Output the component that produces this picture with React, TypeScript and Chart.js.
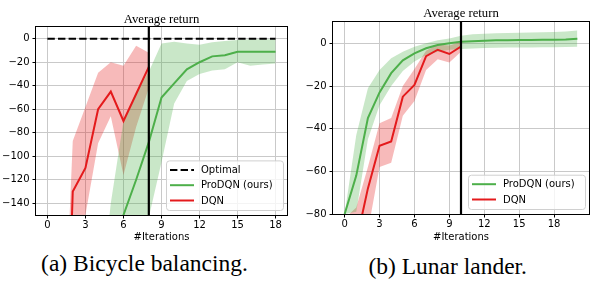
import React, { useEffect, useRef } from "react";
import { Chart, registerables } from "chart.js";

Chart.register(...registerables);

// ---------------- (a) Bicycle balancing ----------------
const bikeXTicks = [0, 3, 6, 9, 12, 15, 18];
const bikeYTicks = [0, -20, -40, -60, -80, -100, -120, -140];
const bikeXRange = [-0.9, 18.9];
const bikeYRange = [-150, 10];
const bikeMarker = 8;
const bikeOptimalIter = [0, 18];
const bikeOptimal = [0, 0];

const bikeProIter = [4, 5, 6, 7, 8, 9, 10, 11, 12, 13, 14, 15, 16, 17, 18];
const bikeProMean = [-230, -185, -150, -120, -88, -50, -38, -26, -20, -15, -14, -11, -11, -11, -11];
const bikeProUpper = [-240, -140, -70, -45, -28, -4, -2.5, -4, -5, -3, -2, -1, -0.5, -0.5, -0.5];
const bikeProLower = [-400, -330, -260, -200, -152, -105, -55, -36, -30, -27, -26, -20, -23, -22, -21];

const bikeDqnIter = [1, 2, 3, 4, 5, 6, 7, 8];
const bikeDqnMean = [-460, -130, -110, -60, -45, -70, -47, -24];
const bikeDqnUpper = [-340, -87, -58, -29, -20, -23, -6, -12];
const bikeDqnLower = [-600, -200, -150, -89, -66, -116, -75, -42];

// ---------------- (b) Lunar lander ----------------
const lunarXTicks = [0, 3, 6, 9, 12, 15, 18];
const lunarYTicks = [0, -20, -40, -60, -80];
const lunarXRange = [-1, 21];
const lunarYRange = [-80, 10];
const lunarMarker = 10;

const lunarProIter = [0, 1, 2, 3, 4, 5, 6, 7, 8, 9, 10, 11, 12, 13, 14, 15, 16, 17, 18, 19, 20];
const lunarProMean = [-80, -62, -35, -23, -14, -8, -4.7, -2.3, -0.8, 0, 0.8, 1.0, 1.2, 1.4, 1.5, 1.6, 1.6, 1.7, 1.7, 1.8, 2.2];
const lunarProUpper = [-80, -43, -21, -12.5, -7, -3.9, -1.6, 0, 1.5, 2.3, 3.6, 4.2, 4.5, 4.7, 4.9, 5.0, 5.1, 5.2, 5.3, 5.5, 6.0];
const lunarProLower = [-80, -79, -45, -29, -20, -13, -8.5, -5.5, -4, -3, -2.6, -2.4, -2.2, -2.1, -2.0, -1.9, -1.9, -1.8, -1.8, -1.7, -1.6];

const lunarDqnIter = [0, 1, 2, 3, 4, 5, 6, 7, 8, 9, 10];
const lunarDqnMean = [-130, -93, -68, -48, -46, -25, -19.5, -6, -3, -5, -1.5];
const lunarDqnUpper = [-82, -77, -58, -37.5, -35, -20, -12, -3.5, -0.5, -1, 0.8];
const lunarDqnLower = [-160, -120, -88, -58, -56, -34, -27, -12.5, -7.5, -9, -4];

// ---------------- text ----------------
const panelTitle = "Average return";
const xTitle = "#Iterations";
const labelOptimal = "Optimal";
const labelPro = "ProDQN (ours)";
const labelDqn = "DQN";
const captionA = "(a) Bicycle balancing.";
const captionB = "(b) Lunar lander.";

// ---------------- styles ----------------
const GREEN = "#4daf4a";
const RED = "#e41a1c";
const GREEN_FILL = "rgba(77,175,74,0.3)";
const RED_FILL = "rgba(228,26,28,0.3)";
const GRID = "#c9c9c9";
const TICK_FONT = { family: "'DejaVu Sans'", size: 10 };

const pts = (xs: number[], ys: number[]) => xs.map((x, i) => ({ x, y: ys[i] }));
const minus = (v: number) => String(v).replace("-", "\u2212");

const decorPlugin = {
  id: "decor",
  afterDraw(chart: any, _args: any, opts: any) {
    const { ctx, chartArea: a } = chart;
    ctx.save();
    // frame
    ctx.strokeStyle = "#000";
    ctx.lineWidth = 1;
    ctx.strokeRect(Math.round(a.left) - 0.5, Math.round(a.top) - 0.5, Math.round(a.right - a.left) + 1, Math.round(a.bottom - a.top) + 1);
    // title
    ctx.fillStyle = "#000";
    ctx.font = "12.7px 'Liberation Serif'";
    ctx.textAlign = "center";
    ctx.textBaseline = "middle";
    ctx.fillText(opts.title, (a.left + a.right) / 2, a.top - opts.titleGap);
    // legend
    const items = chart.data.datasets.filter((d: any) => d.inLegend);
    const w = 117;
    const rowH = 15.3;
    const h = 19 + (items.length - 1) * rowH;
    const bx = a.right - 4 - w;
    const by = a.bottom - 5 - h;
    ctx.beginPath();
    (ctx as any).roundRect(bx + 0.5, by + 0.5, w, h, 3);
    ctx.fillStyle = "rgba(255,255,255,0.8)";
    ctx.fill();
    ctx.strokeStyle = "#d0d0d0";
    ctx.lineWidth = 1;
    ctx.stroke();
    ctx.font = "10px 'DejaVu Sans'";
    ctx.textAlign = "left";
    items.forEach((d: any, i: number) => {
      const y = by + 9.5 + i * rowH;
      ctx.beginPath();
      ctx.setLineDash(d.borderDash || []);
      ctx.strokeStyle = d.borderColor;
      ctx.lineWidth = 2;
      ctx.moveTo(bx + 4, y);
      ctx.lineTo(bx + 28, y);
      ctx.stroke();
      ctx.setLineDash([]);
      ctx.fillStyle = "#000";
      ctx.fillText(d.label, bx + 35, y + 0.5);
    });
    ctx.restore();
  },
};

type Spec = {
  xTicks: number[];
  yTicks: number[];
  xRange: number[];
  yRange: number[];
  marker: number;
  optimal?: { iter: number[]; vals: number[] };
  pro: { iter: number[]; mean: number[]; upper: number[]; lower: number[] };
  dqn: { iter: number[]; mean: number[]; upper: number[]; lower: number[] };
  yAxisW: number;
  xAxisH: number;
  padTop: number;
  padRight: number;
  titleGap: number;
};

function makeConfig(s: Spec): any {
  const datasets: any[] = [
    {
      label: "marker",
      data: [
        { x: s.marker, y: s.yRange[0] },
        { x: s.marker, y: s.yRange[1] },
      ],
      borderColor: "#000",
      borderWidth: 2.2,
    },
  ];
  if (s.optimal) {
    datasets.push({
      label: labelOptimal,
      inLegend: true,
      data: pts(s.optimal.iter, s.optimal.vals),
      borderColor: "#000",
      borderWidth: 2,
      borderDash: [7.4, 3.2],
    });
  }
  datasets.push(
    { label: labelPro, inLegend: true, data: pts(s.pro.iter, s.pro.mean), borderColor: GREEN, borderWidth: 2 },
    { label: labelDqn, inLegend: true, data: pts(s.dqn.iter, s.dqn.mean), borderColor: RED, borderWidth: 2 },
    { label: "pro upper", data: pts(s.pro.iter, s.pro.upper), fill: "+1", backgroundColor: GREEN_FILL, borderColor: "rgba(0,0,0,0)", borderWidth: 0 },
    { label: "pro lower", data: pts(s.pro.iter, s.pro.lower), fill: false, borderColor: "rgba(0,0,0,0)", borderWidth: 0 },
    { label: "dqn upper", data: pts(s.dqn.iter, s.dqn.upper), fill: "+1", backgroundColor: RED_FILL, borderColor: "rgba(0,0,0,0)", borderWidth: 0 },
    { label: "dqn lower", data: pts(s.dqn.iter, s.dqn.lower), fill: false, borderColor: "rgba(0,0,0,0)", borderWidth: 0 }
  );
  datasets.forEach((d) => {
    d.pointRadius = 0;
    d.tension = 0;
    d.clip = 0;
    if (d.fill === undefined) d.fill = false;
  });

  return {
    type: "line",
    data: { datasets },
    plugins: [decorPlugin],
    options: {
      responsive: false,
      animation: false,
      events: [],
      layout: { padding: { left: 0, right: s.padRight, top: s.padTop, bottom: 0 } },
      plugins: {
        legend: { display: false },
        tooltip: { enabled: false },
        title: { display: false },
        decor: { title: panelTitle, titleGap: s.titleGap },
      },
      scales: {
        x: {
          type: "linear",
          min: s.xRange[0],
          max: s.xRange[1],
          afterBuildTicks: (sc: any) => {
            sc.ticks = s.xTicks.map((v) => ({ value: v }));
          },
          afterFit: (sc: any) => {
            sc.height = s.xAxisH;
          },
          grid: { color: GRID, lineWidth: 1, tickLength: 3.5, tickColor: "#000", tickWidth: 1 },
          border: { display: false },
          ticks: { color: "#000", padding: 1, font: TICK_FONT, maxRotation: 0, autoSkip: false, callback: (v: number) => minus(v) },
          title: { display: true, text: xTitle, color: "#000", font: TICK_FONT, padding: { top: 0, bottom: 6.7 } },
        },
        y: {
          type: "linear",
          min: s.yRange[0],
          max: s.yRange[1],
          afterBuildTicks: (sc: any) => {
            sc.ticks = s.yTicks.map((v) => ({ value: v }));
          },
          afterFit: (sc: any) => {
            sc.width = s.yAxisW;
          },
          grid: { color: GRID, lineWidth: 1, tickLength: 3.5, tickColor: "#000", tickWidth: 1 },
          border: { display: false },
          ticks: { color: "#000", padding: 3, font: TICK_FONT, autoSkip: false, callback: (v: number) => minus(v) },
        },
      },
    },
  };
}

const bikeSpec: Spec = {
  xTicks: bikeXTicks,
  yTicks: bikeYTicks,
  xRange: bikeXRange,
  yRange: bikeYRange,
  marker: bikeMarker,
  optimal: { iter: bikeOptimalIter, vals: bikeOptimal },
  pro: { iter: bikeProIter, mean: bikeProMean, upper: bikeProUpper, lower: bikeProLower },
  dqn: { iter: bikeDqnIter, mean: bikeDqnMean, upper: bikeDqnUpper, lower: bikeDqnLower },
  yAxisW: 36,
  xAxisH: 35,
  padTop: 27,
  padRight: 8,
  titleGap: 7,
};

const lunarSpec: Spec = {
  xTicks: lunarXTicks,
  yTicks: lunarYTicks,
  xRange: lunarXRange,
  yRange: lunarYRange,
  marker: lunarMarker,
  pro: { iter: lunarProIter, mean: lunarProMean, upper: lunarProUpper, lower: lunarProLower },
  dqn: { iter: lunarDqnIter, mean: lunarDqnMean, upper: lunarDqnUpper, lower: lunarDqnLower },
  yAxisW: 38,
  xAxisH: 36,
  padTop: 22,
  padRight: 1,
  titleGap: 8.3,
};

function Panel({ spec, left }: { spec: Spec; left: number }) {
  const ref = useRef<HTMLCanvasElement>(null);
  useEffect(() => {
    if (!ref.current) return;
    const chart = new Chart(ref.current, makeConfig(spec));
    return () => chart.destroy();
  }, [spec]);
  return (
    <div style={{ position: "absolute", left, top: 0, width: 295, height: 250 }}>
      <canvas ref={ref} width={295} height={250} style={{ width: 295, height: 250, display: "block" }} />
    </div>
  );
}

const captionStyle: React.CSSProperties = {
  position: "absolute",
  fontFamily: "'Liberation Serif', serif",
  fontSize: 23.5,
  lineHeight: "23.5px",
  textAlign: "center",
  color: "#000",
  whiteSpace: "nowrap",
};

export default function App() {
  return (
    <div style={{ position: "absolute", left: 0, top: 0, width: 590, height: 281, background: "#fff", overflow: "hidden" }}>
      <Panel spec={bikeSpec} left={0} />
      <Panel spec={lunarSpec} left={295} />
      <div style={{ ...captionStyle, left: 0, width: 289, top: 252 }}>{captionA}</div>
      <div style={{ ...captionStyle, left: 300, width: 295.4, top: 255 }}>{captionB}</div>
    </div>
  );
}
